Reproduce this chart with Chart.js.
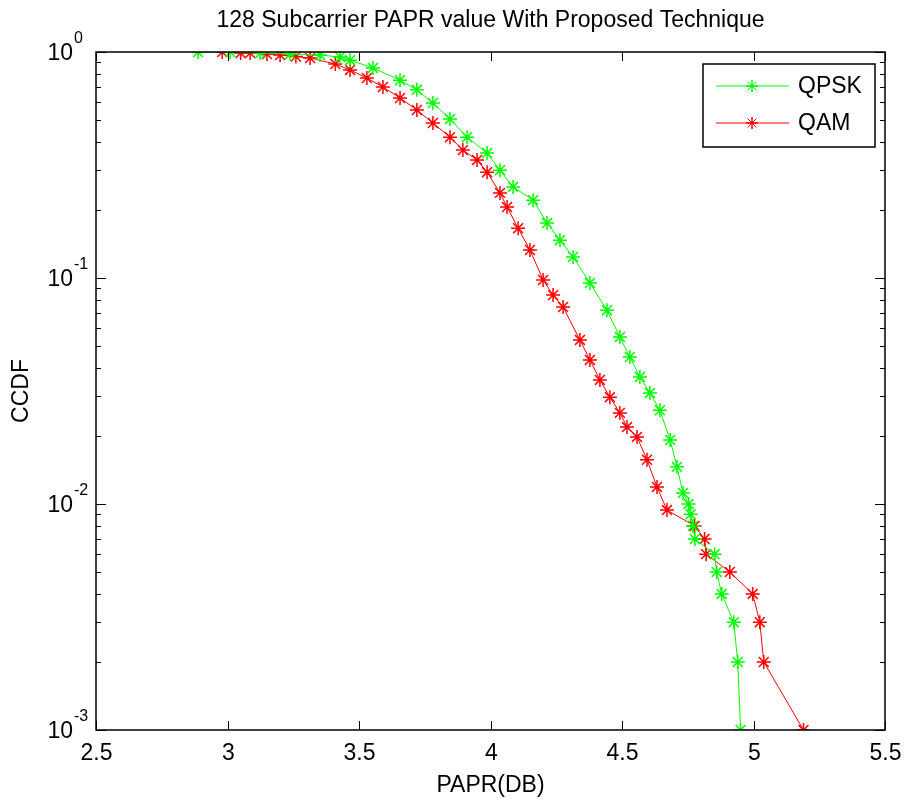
<!DOCTYPE html>
<html>
<head>
<meta charset="utf-8">
<title>128 Subcarrier PAPR</title>
<script src="https://cdn.jsdelivr.net/npm/chart.js@4/dist/chart.umd.min.js"></script>
<style>
    html, body { margin: 0; padding: 0; background: #fff; }
    #wrap { width: 907px; height: 800px; position: relative; }
</style>
</head>
<body>
<div id="wrap"><canvas id="chart" width="907" height="800"></canvas></div>
<script>
// dados (PAPR em dB, CCDF)
const qpskPapr = [2.888, 3.01, 3.124, 3.238, 3.352, 3.428, 3.466, 3.553, 3.656, 3.72, 3.781, 3.846, 3.911, 3.987,
    4.036, 4.086, 4.162, 4.215, 4.264, 4.314, 4.378, 4.443, 4.492, 4.53, 4.568, 4.606, 4.644, 4.683, 4.709,
    4.732, 4.753, 4.761, 4.770, 4.777, 4.852, 4.86, 4.879, 4.925, 4.94, 4.951];
const qpskCcdf = [1.0, 1.0, 0.99, 0.98, 0.97, 0.95, 0.92, 0.85, 0.75, 0.68, 0.595, 0.505, 0.42, 0.357,
    0.30, 0.253, 0.221, 0.175, 0.147, 0.124, 0.095, 0.072, 0.0548, 0.0447, 0.0365, 0.031, 0.026, 0.0192, 0.0146,
    0.0112, 0.010, 0.009, 0.008, 0.007, 0.006, 0.005, 0.004, 0.003, 0.002, 0.001];

const qamPapr = [2.98, 3.05, 3.086, 3.15, 3.2, 3.26, 3.314, 3.41, 3.466, 3.53, 3.591, 3.656, 3.72, 3.781, 3.846,
    3.895, 3.949, 3.987, 4.036, 4.063, 4.105, 4.15, 4.2, 4.238, 4.276, 4.34, 4.378, 4.416, 4.454, 4.492, 4.519,
    4.557, 4.595, 4.633, 4.671, 4.776, 4.814, 4.82, 4.91, 4.997, 5.024, 5.039, 5.19];
const qamCcdf = [1.0, 0.99, 0.99, 0.98, 0.97, 0.955, 0.94, 0.885, 0.833, 0.767, 0.70, 0.626, 0.554, 0.485, 0.42,
    0.368, 0.333, 0.294, 0.238, 0.206, 0.166, 0.133, 0.098, 0.084, 0.0744, 0.0532, 0.0434, 0.0354, 0.0297, 0.0253, 0.0219,
    0.0198, 0.0157, 0.0119, 0.0094, 0.008, 0.007, 0.006, 0.005, 0.004, 0.003, 0.002, 0.001];

const seriesNames = ['QPSK', 'QAM'];
const seriesColors = ['#00ff00', '#ff0000'];
const xTicks = [2.5, 3, 3.5, 4, 4.5, 5, 5.5];
const yDecades = [0, -1, -2, -3];

const FONT = '"Liberation Sans", Arial, sans-serif';

function toPoints(xs, ys) {
    return xs.map((x, i) => ({ x: x, y: ys[i] }));
}

// EIXOS, TICKS INTERNOS, RÓTULOS E LEGENDA NO ESTILO MATLAB
const matlabFrame = {
    id: 'matlabFrame',
    afterDraw(chart) {
        const ctx = chart.ctx;
        const a = chart.chartArea;
        const xs = chart.scales.x, ys = chart.scales.y;
        ctx.save();
        ctx.strokeStyle = '#000';
        ctx.fillStyle = '#000';
        ctx.lineWidth = 1.5;
        ctx.strokeRect(a.left, a.top, a.right - a.left, a.bottom - a.top);

        // ticks do eixo x (baixo e cima)
        ctx.lineWidth = 1;
        ctx.font = '23px ' + FONT;
        ctx.textAlign = 'center';
        ctx.textBaseline = 'middle';
        xTicks.forEach(t => {
            const px = Math.round(xs.getPixelForValue(t)) + 0.5;
            ctx.beginPath();
            ctx.moveTo(px, a.bottom); ctx.lineTo(px, a.bottom - 9);
            ctx.moveTo(px, a.top); ctx.lineTo(px, a.top + 9);
            ctx.stroke();
            ctx.fillText(String(t), px, a.bottom + 24);
        });

        // ticks do eixo y logaritmico
        yDecades.forEach(e => {
            const py = Math.round(ys.getPixelForValue(Math.pow(10, e))) + 0.5;
            ctx.beginPath();
            ctx.moveTo(a.left, py); ctx.lineTo(a.left + 10, py);
            ctx.moveTo(a.right, py); ctx.lineTo(a.right - 10, py);
            ctx.stroke();
            if (e > -3) {
                for (let m = 2; m <= 9; m++) {
                    const pm = Math.round(ys.getPixelForValue(m * Math.pow(10, e - 1))) + 0.5;
                    ctx.beginPath();
                    ctx.moveTo(a.left, pm); ctx.lineTo(a.left + 5, pm);
                    ctx.moveTo(a.right, pm); ctx.lineTo(a.right - 5, pm);
                    ctx.stroke();
                }
            }
            ctx.font = '23px ' + FONT;
            ctx.textAlign = 'right';
            ctx.fillText('10', 73, py + 1);
            ctx.font = '16px ' + FONT;
            ctx.textAlign = 'left';
            ctx.fillText(String(e), 74, py - 14);
        });

        // titulos
        ctx.textAlign = 'center';
        ctx.font = '23px ' + FONT;
        ctx.fillText('128 Subcarrier PAPR value With Proposed Technique', (a.left + a.right) / 2, 21);
        ctx.fillText('PAPR(DB)', (a.left + a.right) / 2, 786);
        ctx.translate(22, (a.top + a.bottom) / 2);
        ctx.rotate(-Math.PI / 2);
        ctx.fillText('CCDF', 0, 0);
        ctx.restore();

        // legenda
        ctx.save();
        ctx.fillStyle = '#fff';
        ctx.fillRect(703, 64, 172, 83);
        ctx.strokeStyle = '#000';
        ctx.lineWidth = 1.5;
        ctx.strokeRect(703, 64, 172, 83);
        seriesNames.forEach((name, i) => {
            const ly = 86 + i * 37;
            ctx.strokeStyle = seriesColors[i];
            ctx.lineWidth = 1;
            ctx.beginPath();
            ctx.moveTo(716, ly); ctx.lineTo(789, ly);
            ctx.stroke();
            Chart.helpers.drawPoint(ctx, { pointStyle: 'star', radius: 6, rotation: 0, borderWidth: 1 }, 752, ly);
            ctx.stroke();
            ctx.fillStyle = '#000';
            ctx.font = '23px ' + FONT;
            ctx.textAlign = 'left';
            ctx.textBaseline = 'middle';
            ctx.fillText(name, 798, ly + 1);
        });
        ctx.restore();
    }
};

new Chart(document.getElementById('chart'), {
    type: 'line',
    data: {
        datasets: [
            { label: seriesNames[0], data: toPoints(qpskPapr, qpskCcdf) },
            { label: seriesNames[1], data: toPoints(qamPapr, qamCcdf) }
        ].map((d, i) => Object.assign(d, {
            borderColor: seriesColors[i],
            backgroundColor: seriesColors[i],
            borderWidth: 1,
            pointStyle: 'star',
            pointRadius: 7,
            pointBorderWidth: 1.5,
            pointBorderColor: seriesColors[i],
            tension: 0,
            fill: false
        }))
    },
    options: {
        responsive: false,
        animation: false,
        layout: { padding: { left: 96, top: 52, right: 22, bottom: 70 } },
        plugins: { legend: { display: false }, tooltip: { enabled: false }, title: { display: false } },
        scales: {
            x: { type: 'linear', min: 2.5, max: 5.5, display: false },
            y: { type: 'logarithmic', min: 0.001, max: 1, display: false }
        }
    },
    plugins: [matlabFrame]
});
</script>
</body>
</html>
